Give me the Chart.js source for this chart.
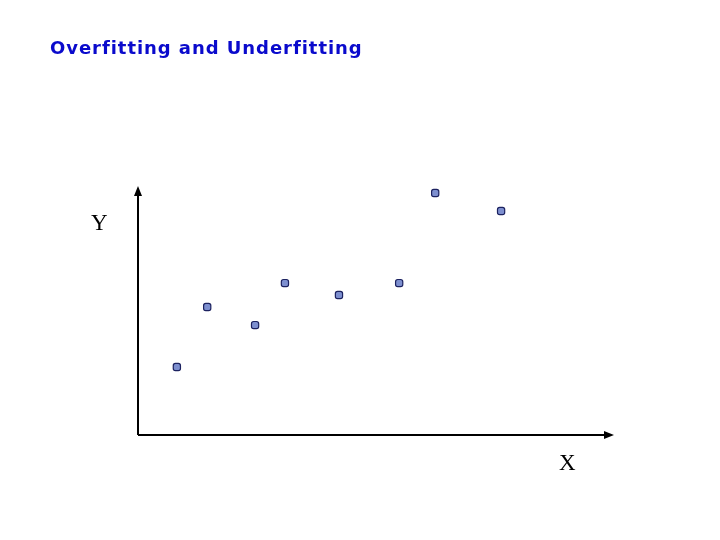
<!DOCTYPE html>
<html>
<head>
<meta charset="utf-8">
<script src="https://cdn.jsdelivr.net/npm/chart.js@4"></script>
<style>
  html, body { margin: 0; padding: 0; background: #fff; }
  #wrap { position: relative; width: 720px; height: 540px; }
  #title { position: absolute; left: 50px; top: 37px; font: bold 18px "DejaVu Sans", Verdana, sans-serif; letter-spacing: 0.95px; color: #0a0acc; white-space: nowrap; }
  .lab { position: absolute; font: 23px "Liberation Serif", "Times New Roman", serif; color: #000; line-height: 1; }
</style>
</head>
<body>
<div id="wrap">
  <canvas id="c" width="720" height="540"></canvas>
  <div id="title">Overfitting and Underfitting</div>
  <div class="lab" style="left:91px; top:211px;">Y</div>
  <div class="lab" style="left:559px; top:451px;">X</div>
</div>
<script>
// values (arbitrary units, 0..10 on both axes)
const xValues = [0.82, 1.46, 2.47, 3.10, 4.24, 5.51, 6.27, 7.66];
const yValues = [2.75, 5.18, 4.45, 6.15, 5.67, 6.15, 9.80, 9.07];

const points = xValues.map((x, i) => ({ x: x, y: yValues[i] }));

// axis lines with arrowheads
const arrowAxes = {
  id: "arrowAxes",
  afterDraw(chart) {
    const { ctx, chartArea: a } = chart;
    const x0 = a.left, y0 = a.bottom;
    ctx.save();
    ctx.strokeStyle = "#000";
    ctx.fillStyle = "#000";
    ctx.lineWidth = 2;
    ctx.beginPath();
    ctx.moveTo(x0, y0);
    ctx.lineTo(x0, a.top + 6);
    ctx.moveTo(x0, y0);
    ctx.lineTo(a.right - 6, y0);
    ctx.stroke();
    // up arrow
    ctx.beginPath();
    ctx.moveTo(x0, a.top - 2);
    ctx.lineTo(x0 - 4, a.top + 8);
    ctx.lineTo(x0 + 4, a.top + 8);
    ctx.closePath();
    ctx.fill();
    // right arrow
    ctx.beginPath();
    ctx.moveTo(a.right + 2, y0);
    ctx.lineTo(a.right - 8, y0 - 4);
    ctx.lineTo(a.right - 8, y0 + 4);
    ctx.closePath();
    ctx.fill();
    ctx.restore();
  }
};

new Chart(document.getElementById("c"), {
  type: "scatter",
  data: {
    datasets: [{
      data: points,
      pointStyle: "rectRounded",
      pointRadius: 4.2,
      pointHoverRadius: 4.2,
      backgroundColor: "#7d8fcf",
      borderColor: "#1c2260",
      borderWidth: 1.2
    }]
  },
  options: {
    responsive: false,
    animation: false,
    layout: { padding: { left: 138, right: 108, top: 188, bottom: 105 } },
    plugins: { legend: { display: false }, tooltip: { enabled: false }, title: { display: false } },
    scales: {
      x: { type: "linear", min: 0, max: 10, display: false },
      y: { type: "linear", min: 0, max: 10, display: false }
    }
  },
  plugins: [arrowAxes]
});
</script>
</body>
</html>
